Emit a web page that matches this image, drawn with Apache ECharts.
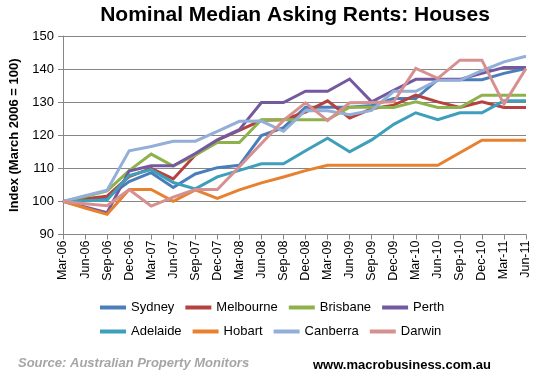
<!DOCTYPE html>
<html>
<head>
<meta charset="utf-8">
<script src="https://cdn.jsdelivr.net/npm/echarts@6/dist/echarts.min.js"></script>
<style>
  html, body { margin: 0; padding: 0; background: #fff; }
  #chart { width: 539px; height: 378px; }
</style>
</head>
<body>
<div id="chart"></div>
<script>
// quarters, Mar 2006 = 100
const quarters = ['Mar-06', 'Jun-06', 'Sep-06', 'Dec-06', 'Mar-07', 'Jun-07', 'Sep-07', 'Dec-07',
  'Mar-08', 'Jun-08', 'Sep-08', 'Dec-08', 'Mar-09', 'Jun-09', 'Sep-09', 'Dec-09',
  'Mar-10', 'Jun-10', 'Sep-10', 'Dec-10', 'Mar-11', 'Jun-11'];

const sydney    = [100, 100.5, 101.2, 106, 108.7, 104.2, 108.3, 110.2, 110.9, 119.9, 122.3, 128.5, 128.5, 128.5, 129, 131.1, 131.1, 136.8, 136.8, 136.8, 138.7, 140.2];
const melbourne = [100, 100.8, 101.6, 107.5, 110, 106.8, 114, 118.5, 121.5, 124.5, 124.7, 127, 130.4, 125.2, 128, 129.1, 132.1, 130.1, 128.4, 130.1, 128.4, 128.4];
const brisbane  = [100, 101.5, 103.2, 109.3, 114.3, 110.7, 114, 117.8, 117.8, 124.7, 124.7, 124.7, 124.7, 128.5, 128.5, 128.4, 130.1, 128.4, 128.4, 132.1, 132.1, 132.1];
const perth     = [100, 98.3, 96.6, 109.2, 110.8, 110.8, 114.5, 118.6, 121.7, 129.9, 129.9, 133.3, 133.3, 137, 130.1, 133.6, 136.9, 136.9, 136.9, 138.7, 140.5, 140.5];
const adelaide  = [100, 100.2, 100.4, 107.8, 109.6, 105.7, 103.8, 107.4, 109.4, 111.4, 111.4, 115.3, 119.1, 115, 118.6, 123.3, 126.8, 124.7, 126.8, 126.8, 130.4, 130.4];
const hobart    = [100, 98, 96.1, 103.6, 103.6, 100, 103.5, 100.9, 103.5, 105.6, 107.4, 109.3, 110.9, 110.9, 110.9, 110.9, 110.9, 110.9, 114.7, 118.5, 118.5, 118.5];
const canberra  = [100, 101.7, 103.4, 115.3, 116.6, 118.2, 118.2, 121.2, 124.2, 124.3, 121.2, 127.5, 127.4, 126.2, 127.5, 133.3, 133.3, 136.6, 136.6, 139.5, 142.2, 143.9];
const darwin    = [100, 99.3, 98.7, 103.6, 98.6, 101.3, 103.6, 103.6, 110.5, 117.5, 124.5, 129.8, 124.4, 129.8, 129.9, 130.1, 140.2, 137.2, 142.7, 142.7, 129.4, 140.2];

const cityNames = ['Sydney', 'Melbourne', 'Brisbane', 'Perth', 'Adelaide', 'Hobart', 'Canberra', 'Darwin'];
const cityData = [sydney, melbourne, brisbane, perth, adelaide, hobart, canberra, darwin];
const cityColors = ['#4A7EBB', '#B4433F', '#8DB24C', '#7559A0', '#3E9FBA', '#E8812F', '#93AFD8', '#D69090'];

const yTicks = [90, 100, 110, 120, 130, 140, 150];

function buildSeries() {
  let series = [];
  cityNames.forEach((name, i) => {
    series.push({
      name: name,
      type: 'line',
      data: cityData[i],
      symbol: 'none',
      color: cityColors[i],
      lineStyle: { width: 3, color: cityColors[i], join: 'miter' },
      z: i === 7 ? 3 : 2
    });
  });
  return series;
}

function createChart() {
  let chart = echarts.init(document.getElementById('chart'), null, { renderer: 'canvas' });
  chart.setOption({
    animation: false,
    backgroundColor: '#fff',
    title: {
      text: 'Nominal Median Asking Rents: Houses',
      left: 290,
      textAlign: 'center',
      top: 0,
      textStyle: { fontFamily: 'Liberation Sans', fontSize: 21, fontWeight: 'bold', color: '#000' }
    },
    grid: { left: 63, right: 13, top: 36, bottom: 143.5 },
    legend: {
      data: cityNames,
      left: 95,
      top: 296,
      width: 430,
      itemWidth: 26,
      itemHeight: 4,
      itemGap: 11,
      icon: 'rect',
      textStyle: { fontFamily: 'Liberation Sans', fontSize: 13, color: '#000', width: 62, height: 13 }
    },
    xAxis: {
      type: 'category',
      data: quarters,
      boundaryGap: false,
      axisLine: { lineStyle: { color: '#868686', width: 1 } },
      axisTick: { show: true, length: 5, lineStyle: { color: '#868686' } },
      axisLabel: {
        rotate: 90,
        interval: 0,
        margin: 6,
        fontFamily: 'Liberation Sans',
        fontSize: 12.5,
        color: '#000'
      }
    },
    yAxis: {
      type: 'value',
      min: yTicks[0],
      max: yTicks[yTicks.length - 1],
      interval: 10,
      name: 'Index (March 2006 = 100)',
      nameLocation: 'middle',
      nameRotate: 90,
      nameGap: 41,
      nameTextStyle: { fontFamily: 'Liberation Sans', fontSize: 13, fontWeight: 'bold', color: '#000' },
      axisLine: { show: true, lineStyle: { color: '#868686', width: 1 } },
      axisTick: { show: true, length: 5, lineStyle: { color: '#868686' } },
      splitLine: { lineStyle: { color: '#868686', width: 1 } },
      axisLabel: { margin: 9, fontFamily: 'Liberation Sans', fontSize: 13, color: '#000' }
    },
    graphic: [
      {
        type: 'text',
        left: 18,
        top: 357,
        style: {
          text: 'Source: Australian Property Monitors',
          font: 'italic bold 13px "Liberation Sans"',
          fill: '#A6A6A6'
        }
      },
      {
        type: 'text',
        left: 313,
        top: 359,
        style: {
          text: 'www.macrobusiness.com.au',
          font: 'bold 13px "Liberation Sans"',
          fill: '#000'
        }
      }
    ],
    series: buildSeries()
  });
  return chart;
}

createChart();
</script>
</body>
</html>
